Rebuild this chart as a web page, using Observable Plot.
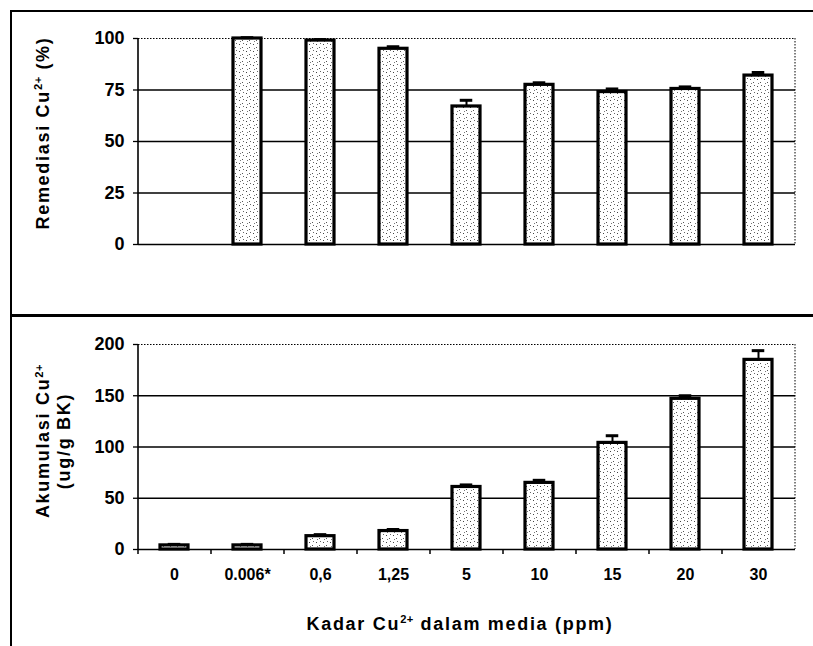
<!DOCTYPE html>
<html>
<head>
<meta charset="utf-8">
<script src="https://cdn.jsdelivr.net/npm/d3@7"></script>
<script src="https://cdn.jsdelivr.net/npm/@observablehq/plot@0.6"></script>
<style>
  html, body { margin: 0; padding: 0; background: #fff; }
  body { width: 813px; height: 646px; overflow: hidden; position: relative;
         font-family: "Liberation Sans", Arial, sans-serif; font-weight: bold; color: #000; }
  #topChart, #botChart { position: absolute; left: 0; }
  #topChart { top: 0; }
  #botChart { top: 316px; }
  .frameTop { position: absolute; left: 10px; top: 10px; width: 820px; height: 302px;
              border: 2px solid #000; border-bottom-width: 3px; }
  .frameBot { position: absolute; left: 10px; top: 316px; height: 340px; border-left: 2px solid #000; }
  .title { position: absolute; font-size: 18px; letter-spacing: 1.7px; white-space: nowrap;
           text-align: center; line-height: 21px; }
  .rot { transform: translate(-50%, -50%) rotate(-90deg); }
  .hor { transform: translate(-50%, -50%); }
  sup { font-size: 0.62em; line-height: 0; vertical-align: 0.55em; letter-spacing: 0.5px; }
</style>
</head>
<body>
<svg width="0" height="0" style="position:absolute">
  <defs>
    <pattern id="stip" width="7" height="7" patternUnits="userSpaceOnUse">
      <rect width="7" height="7" fill="#fff"/>
      <rect x="1" y="2" width="1" height="1" fill="#444"/>
      <rect x="4" y="5" width="1" height="1" fill="#555"/>
      <rect x="5" y="1" width="1" height="1" fill="#666"/>
      <rect x="2" y="6" width="1" height="1" fill="#777"/>
    </pattern>
  </defs>
</svg>
<div class="frameTop"></div>
<div class="frameBot"></div>
<div id="topChart"></div>
<div id="botChart"></div>
<div class="title rot" style="left:43px; top:133px;">Remediasi Cu<sup>2+</sup> (%)</div>
<div class="title rot" style="left:54px; top:441px;">Akumulasi Cu<sup>2+</sup><br>(ug/g BK)</div>
<div class="title hor" style="left:460px; top:624px;">Kadar Cu<sup>2+</sup> dalam media (ppm)</div>
<script>
// ---- data ----
const categories = ["0", "0.006*", "0,6", "1,25", "5", "10", "15", "20", "30"];
const remediasi = [null, 100, 99, 95, 67, 77.5, 74, 75.5, 82];
const remediasiErr = [null, 0.4, 0.5, 1, 3, 1, 1.5, 1, 1.5];
const akumulasi = [4, 4, 13, 18, 61, 65, 104, 147, 185];
const akumulasiErr = [1, 1, 1.5, 1.5, 2, 2.5, 7, 3, 9];
const remediasiTicks = [0, 25, 50, 75, 100];
const akumulasiTicks = [0, 50, 100, 150, 200];

// ---- layout ----
const W = 813;
const ML = 138;
const MR = 18;
const step = (W - ML - MR) / categories.length;
const barFrac = 0.39;
const capWidth = 13;
const capInset = (step * barFrac - capWidth) / 2;

const topRows = categories.map((c, i) => ({c, v: remediasi[i], e: remediasiErr[i]})).filter(d => d.v != null);
const botRows = categories.map((c, i) => ({c, v: akumulasi[i], e: akumulasiErr[i]}));

const style = {fontFamily: "Liberation Sans, Arial, sans-serif", color: "#000", background: "transparent", overflow: "visible"};
const xScale = {domain: categories, paddingInner: 1 - barFrac, paddingOuter: (1 - barFrac) / 2, label: null};

function panel(rows, ticks, opts) {
  const top = ticks[ticks.length - 1];
  const inner = ticks.filter(t => t > 0 && t < top);
  const marks = [
    Plot.ruleY(inner, {stroke: "#000", strokeWidth: 1.3}),
    Plot.ruleY([top], {stroke: "#000", strokeWidth: 1, strokeDasharray: "1.5,1.5"}),
    Plot.ruleX([categories[categories.length - 1]], {dx: step / 2, stroke: "#000", strokeWidth: 1, strokeDasharray: "1.5,1.5"}),
    Plot.ruleX([categories[0]], {dx: -step / 2, stroke: "#000", strokeWidth: 1.6}),
    Plot.ruleY([0], {stroke: "#000", strokeWidth: 1.6}),
    Plot.axisY(ticks, {label: null, tickSize: 5, tickPadding: 9, fontSize: 18, fontWeight: "bold", strokeWidth: 1.3}),
    Plot.barY(rows, {x: "c", y: "v", fill: "url(#stip)", stroke: "#000", strokeWidth: 3.2}),
    Plot.ruleX(rows, {x: "c", y1: "v", y2: d => d.v + d.e, stroke: "#000", strokeWidth: 2}),
    Plot.tickY(rows, {x: "c", y: d => d.v + d.e, stroke: "#000", strokeWidth: 3, insetLeft: capInset, insetRight: capInset})
  ];
  if (opts.xLabels) {
    marks.push(
      Plot.ruleX(categories, {dx: -step / 2, y1: d => 0, y2: d => 0, insetBottom: -5, stroke: "#000", strokeWidth: 1.5}),
      Plot.axisX({label: null, tickSize: 0, tickPadding: 19, fontSize: 16, fontWeight: "bold"})
    );
  }
  return Plot.plot({
    width: W,
    height: opts.height,
    marginLeft: ML,
    marginRight: MR,
    marginTop: opts.mt,
    marginBottom: opts.mb,
    style,
    x: opts.xLabels ? xScale : {...xScale, axis: null},
    y: {domain: [0, top], label: null},
    marks
  });
}

document.getElementById("topChart").append(panel(topRows, remediasiTicks, {height: 316, mt: 38, mb: 72, xLabels: false}));
document.getElementById("botChart").append(panel(botRows, akumulasiTicks, {height: 330, mt: 28, mb: 97, xLabels: true}));
</script>
</body>
</html>
